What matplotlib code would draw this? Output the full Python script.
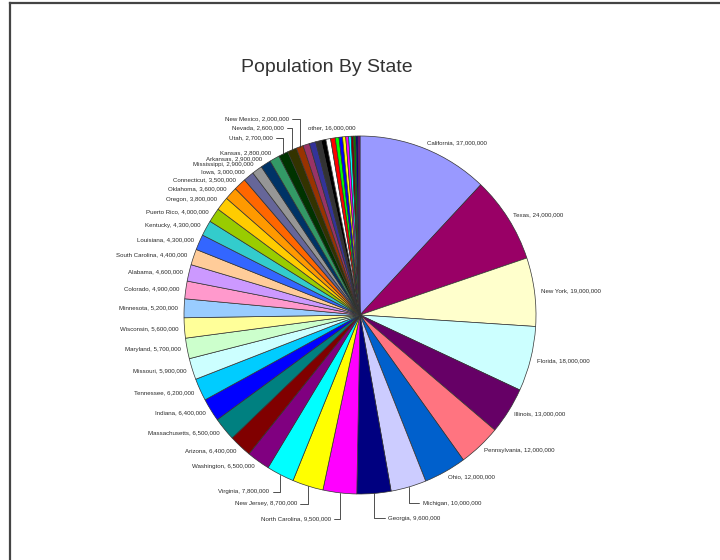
import numpy as np
import matplotlib
matplotlib.use("Agg")
import matplotlib.pyplot as plt
from matplotlib.lines import Line2D

plt.rcParams['font.family'] = ['Liberation Sans', 'DejaVu Sans']

# ---------------- data ----------------
states = ["California", "Texas", "New York", "Florida", "Illinois", "Pennsylvania",
          "Ohio", "Michigan", "Georgia", "North Carolina", "New Jersey", "Virginia",
          "Washington", "Arizona", "Massachusetts", "Indiana", "Tennessee", "Missouri",
          "Maryland", "Wisconsin", "Minnesota", "Colorado", "Alabama", "South Carolina",
          "Louisiana", "Kentucky", "Puerto Rico", "Oregon", "Oklahoma", "Connecticut",
          "Iowa", "Mississippi", "Arkansas", "Kansas", "Utah", "Nevada", "New Mexico"]
populations = [37000000, 24000000, 19000000, 18000000, 13000000, 12000000,
               12000000, 10000000, 9600000, 9500000, 8700000, 7800000,
               6500000, 6400000, 6500000, 6400000, 6200000, 5900000,
               5700000, 5600000, 5200000, 4900000, 4600000, 4400000,
               4300000, 4300000, 4000000, 3800000, 3600000, 3500000,
               3000000, 2900000, 2900000, 2800000, 2700000, 2600000, 2000000]
# the thin unlabeled slices that together form "other"
other_values = [1850000, 1800000, 1550000, 1350000, 1330000, 1320000, 1050000,
                980000, 900000, 810000, 710000, 670000, 630000, 600000, 560000]
other_label = "other"
other_total = 16000000

state_colors = ["#9999FF", "#990066", "#FFFFCC", "#CCFFFF", "#660066", "#FF7480",
                "#0060CC", "#CCCCFF", "#000080", "#FF00FF", "#FFFF00", "#00FFFF",
                "#800080", "#800000", "#008080", "#0000FF", "#00CCFF", "#CCFFFF",
                "#CCFFCC", "#FFFF99", "#99CCFF", "#FF99CC", "#CC99FF", "#FFCC99",
                "#3366FF", "#33CCCC", "#99CC00", "#FFCC00", "#FF9900", "#FF6600",
                "#666699", "#969696", "#003366", "#339966", "#003300", "#333300",
                "#993300"]
other_colors = ["#993366", "#333399", "#333333", "#000000", "#FFFFFF", "#FF0000",
                "#00FF00", "#0000FF", "#FFFF00", "#FF00FF", "#00FFFF", "#800000",
                "#008000", "#000080", "#800080"]

# labels drawn with elbow leader lines: offset of text from wedge edge (pixels), alignment
leader_offsets = {
    "Michigan": (14, -16, "left"),
    "Georgia": (14, -25, "left"),
    "North Carolina": (-9, -26, "right"),
    "New Jersey": (-11, -18, "right"),
    "Virginia": (-11, -17, "right"),
    "Utah": (-11, 16, "right"),
    "Nevada": (-8, 22, "right"),
    "New Mexico": (-11, 28, "right"),
}

# ---------------- figure ----------------
W, H = 720, 560
fig = plt.figure(figsize=(W / 100, H / 100), dpi=100)
fig.patch.set_facecolor("white")

cx_px, cy_px, Rx_px, Ry_px = 360, 315, 176, 179
ax = fig.add_axes([0, 0, 1, 1])

values = populations + other_values
colors = state_colors + other_colors
wedges, _ = ax.pie(values, colors=colors, startangle=90, counterclock=False,
                   radius=1.0, center=(0, 0),
                   wedgeprops=dict(edgecolor="#333333", linewidth=0.5))

ax.set_aspect("auto")
ax.set_xlim(-cx_px / Rx_px, (W - cx_px) / Rx_px)
ax.set_ylim(-(H - cy_px) / Ry_px, cy_px / Ry_px)
ax.axis("off")

fs = 4.4
tcol = "#2a2a2a"

def mid_angle(w):
    return np.deg2rad((w.theta1 + w.theta2) / 2.0)

for i, name in enumerate(states):
    w = wedges[i]
    a = mid_angle(w)
    label = f"{name}, {populations[i]:,}"
    if name in leader_offsets:
        dx, dy, ha = leader_offsets[name]
        xy = (np.cos(a), np.sin(a))
        rel = (0, 0.5) if ha == "left" else (1, 0.5)
        ax.annotate(label, xy=xy, xytext=(dx, dy), textcoords="offset pixels",
                    ha=ha, va="center", fontsize=fs, color=tcol,
                    arrowprops=dict(arrowstyle="-", color="#333333", lw=0.6,
                                    connectionstyle="angle,angleA=0,angleB=90,rad=0",
                                    shrinkA=0.5, shrinkB=0, relpos=rel))
    else:
        r = 1.035
        x, y = r * np.cos(a), r * np.sin(a)
        ha = "left" if x > 0 else "right"
        ax.text(x, y, label, ha=ha, va="center", fontsize=fs, color=tcol)

# label for the group of small slices
t1 = wedges[len(states)].theta1
t2 = wedges[-1].theta2
a = np.deg2rad((t1 + t2) / 2.0)
ax.text(1.06 * np.cos(a), 1.06 * np.sin(a), f"{other_label}, {other_total:,}",
        ha="center", va="center", fontsize=fs, color=tcol)

# title
fig.text(327 / W, 1 - 68 / H, "Population By State", ha="center", va="center",
         fontsize=14, color="#333333")

# frame (screenshot border)
fig.add_artist(Line2D([10 / W, 10 / W], [0, 1 - 3 / H], transform=fig.transFigure,
                      color="#444444", lw=1.6))
fig.add_artist(Line2D([10 / W, 1], [1 - 3 / H, 1 - 3 / H], transform=fig.transFigure,
                      color="#444444", lw=1.6))

fig.savefig("out.png", dpi=100, facecolor="white")
